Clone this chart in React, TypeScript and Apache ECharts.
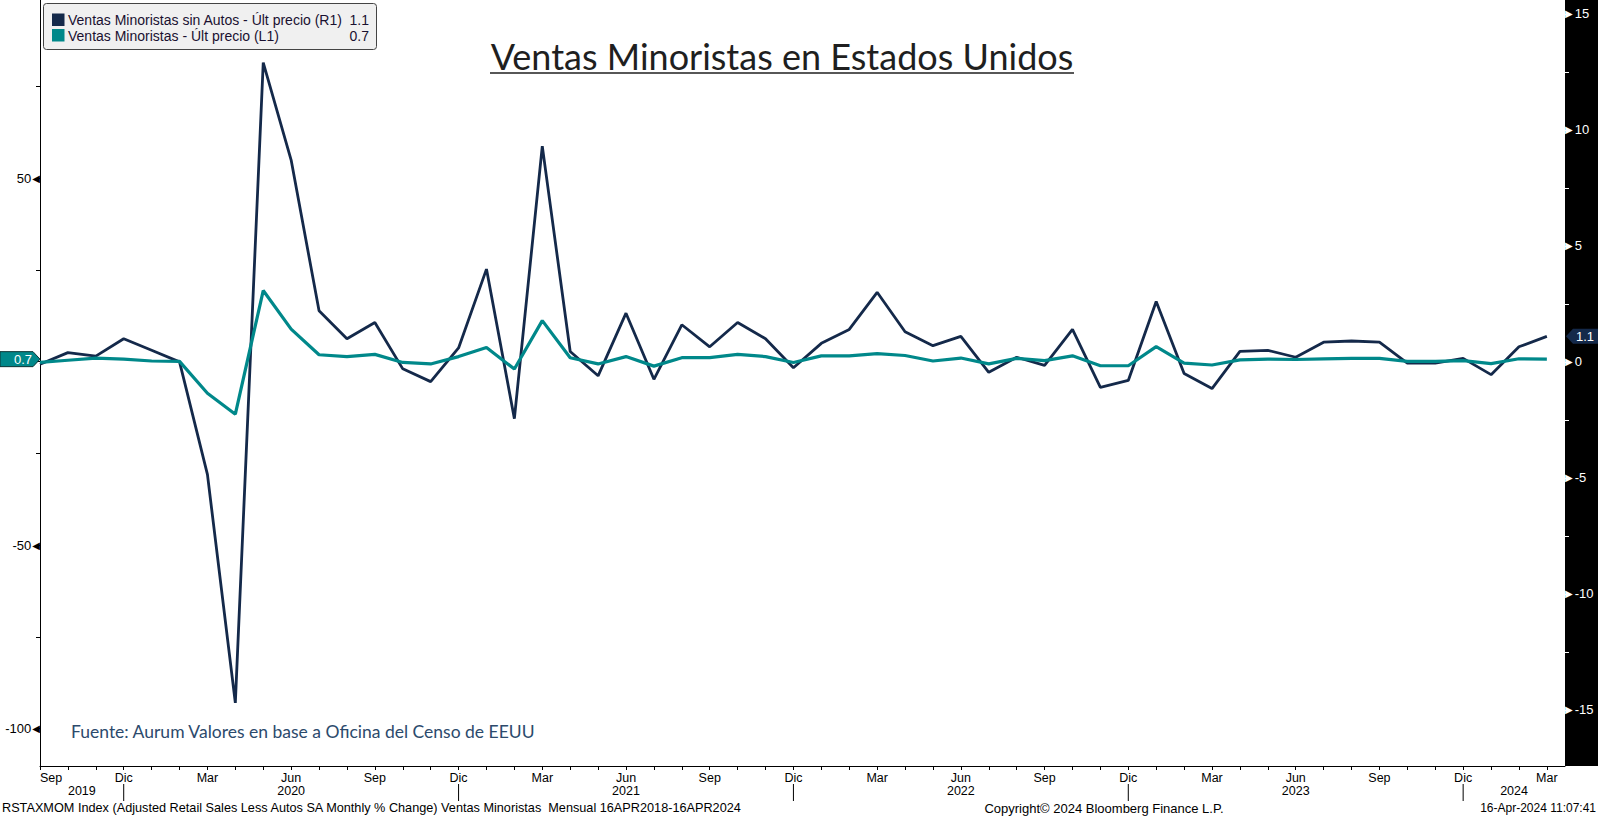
import React, { useEffect, useRef } from "react";
import * as echarts from "echarts";

// ---------------- DATA ----------------
const dates = [
  "2019-09", "2019-10", "2019-11", "2019-12",
  "2020-01", "2020-02", "2020-03", "2020-04", "2020-05", "2020-06", "2020-07", "2020-08", "2020-09", "2020-10", "2020-11", "2020-12",
  "2021-01", "2021-02", "2021-03", "2021-04", "2021-05", "2021-06", "2021-07", "2021-08", "2021-09", "2021-10", "2021-11", "2021-12",
  "2022-01", "2022-02", "2022-03", "2022-04", "2022-05", "2022-06", "2022-07", "2022-08", "2022-09", "2022-10", "2022-11", "2022-12",
  "2023-01", "2023-02", "2023-03", "2023-04", "2023-05", "2023-06", "2023-07", "2023-08", "2023-09", "2023-10", "2023-11", "2023-12",
  "2024-01", "2024-02", "2024-03",
];

const mesesES = ["Ene", "Feb", "Mar", "Abr", "May", "Jun", "Jul", "Ago", "Sep", "Oct", "Nov", "Dic"];

// Ventas Minoristas sin Autos (R1, right axis)
const ventasSinAutos = [
  -0.1, 0.4, 0.25, 1.0,
  0.5, 0.0, -4.85, -14.7, 12.9, 8.7, 2.2, 1.0, 1.7, -0.3, -0.85, 0.6,
  4.0, -2.45, 9.3, 0.45, -0.6, 2.1, -0.75, 1.6, 0.65, 1.7, 1.0, -0.25,
  0.8, 1.4, 3.0, 1.3, 0.7, 1.1, -0.45, 0.2, -0.15, 1.4, -1.1, -0.8,
  2.6, -0.5, -1.15, 0.45, 0.5, 0.2, 0.85, 0.9, 0.85, -0.05, -0.05, 0.15,
  -0.55, 0.65, 1.1,
];

// Ventas Minoristas (L1, left axis)
const ventasTotales = [
  -0.2, 0.4, 1.0, 0.7,
  0.2, 0.1, -8.6, -14.3, 19.4, 8.9, 1.9, 1.4, 2.0, -0.2, -0.6, 1.4,
  3.9, -2.0, 11.2, 1.1, -0.6, 1.4, -1.2, 1.1, 1.1, 2.0, 1.4, -0.2,
  1.6, 1.6, 2.2, 1.7, 0.2, 1.0, -0.6, 0.9, 0.3, 1.6, -1.1, -1.1,
  4.1, -0.4, -0.9, 0.5, 0.7, 0.6, 0.8, 0.9, 0.9, 0.1, 0.1, 0.3,
  -0.5, 0.8, 0.7,
];

const leftTickValues = [-100, -75, -50, -25, 0, 25, 50, 75];
const leftLabelValues = [-100, -50, 50];
const rightTickValues = [-15, -12.5, -10, -7.5, -5, -2.5, 0, 2.5, 5, 7.5, 10, 12.5, 15];
const rightLabelValues = [-15, -10, -5, 0, 5, 10, 15];

const serieSinAutosName = "Ventas Minoristas sin Autos - Últ precio (R1)";
const serieTotalName = "Ventas Minoristas - Últ precio (L1)";
const titleText = "Ventas Minoristas en Estados Unidos";
const sourceText = "Fuente: Aurum Valores en base a Oficina del Censo de EEUU";
const footerLeft = "RSTAXMOM Index (Adjusted Retail Sales Less Autos SA Monthly % Change) Ventas Minoristas  Mensual 16APR2018-16APR2024";
const footerCenter = "Copyright© 2024 Bloomberg Finance L.P.";
const footerRight = "16-Apr-2024 11:07:41";

// ---------------- STYLE ----------------
const NAVY = "#14294a";
const TEAL = "#00888a";
const BBG_FONT = "Liberation Sans";

export default function App() {
  const ref = useRef<HTMLDivElement>(null);

  useEffect(() => {
    document.body.style.margin = "0";
    const el = ref.current!;
    const chart = echarts.init(el, null, { renderer: "svg", width: 1598, height: 818 });

    const monthOf = (i: number) => parseInt(dates[i].slice(5, 7), 10);
    const yearOf = (i: number) => parseInt(dates[i].slice(0, 4), 10);
    const quarterIdx = dates.map((_, i) => i).filter((i) => monthOf(i) % 3 === 0);
    const allIdx = dates.map((_, i) => i);
    const xMax = dates.length - 1 + 0.65;

    const option: any = {
      animation: false,
      backgroundColor: "#ffffff",
      grid: { left: 40, right: 33, top: 0, bottom: 52, containLabel: false },
      xAxis: {
        type: "value",
        min: 0,
        max: xMax,
        axisLine: { show: true, onZero: false, lineStyle: { color: "#000", width: 1 } },
        axisTick: { show: true, length: 4, customValues: allIdx, lineStyle: { color: "#000" } },
        axisLabel: {
          customValues: quarterIdx,
          formatter: (v: number) => {
            const i = Math.round(v);
            if (Math.abs(v - i) > 0.01 || i < 0 || i >= dates.length) return "";
            return mesesES[monthOf(i) - 1];
          },
          color: "#000",
          fontFamily: BBG_FONT,
          fontSize: 12.5,
          margin: 5,
          alignMinLabel: "left",
        },
        splitLine: { show: false },
      },
      yAxis: [
        {
          type: "value",
          position: "left",
          min: -110.2,
          max: 98.6,
          axisLine: { show: true, onZero: false, lineStyle: { color: "#000", width: 1 } },
          axisTick: { show: true, length: 4, customValues: leftTickValues, lineStyle: { color: "#000" } },
          axisLabel: {
            customValues: leftLabelValues,
            margin: 0,
            formatter: (v: number) => `{v|${v}}{t|◀}`,
            rich: {
              v: { color: "#000", fontFamily: BBG_FONT, fontSize: 13, padding: [0, 1, 0, 0] },
              t: { color: "#000", fontFamily: "DejaVu Sans", fontSize: 10 },
            },
          },
          splitLine: { show: false },
        },
        {
          type: "value",
          position: "right",
          min: -17.42,
          max: 15.6,
          z: 5,
          axisLine: { show: false, onZero: false },
          axisTick: { show: true, length: 4, customValues: rightTickValues, lineStyle: { color: "#fff" } },
          axisLabel: {
            customValues: rightLabelValues,
            margin: 0,
            formatter: (v: number) => `{t|▶}{v|${v}}`,
            rich: {
              v: { color: "#fff", fontFamily: BBG_FONT, fontSize: 13, padding: [0, 0, 0, 2] },
              t: { color: "#fff", fontFamily: "DejaVu Sans", fontSize: 10 },
            },
          },
          splitLine: { show: false },
        },
      ],
      series: [
        {
          name: serieSinAutosName,
          type: "line",
          yAxisIndex: 1,
          data: ventasSinAutos.map((v, i) => [i, v]),
          symbol: "none",
          showSymbol: false,
          lineStyle: { color: NAVY, width: 2.8 },
          itemStyle: { color: NAVY },
          z: 2,
        },
        {
          name: serieTotalName,
          type: "line",
          yAxisIndex: 0,
          data: ventasTotales.map((v, i) => [i, v]),
          symbol: "none",
          showSymbol: false,
          lineStyle: { color: TEAL, width: 3.2 },
          itemStyle: { color: TEAL },
          z: 3,
        },
      ],
    };

    chart.setOption(option);

    const toX = (i: number) => chart.convertToPixel({ xAxisIndex: 0 }, i) as number;
    const toYL = (v: number) => chart.convertToPixel({ yAxisIndex: 0 }, v) as number;
    const toYR = (v: number) => chart.convertToPixel({ yAxisIndex: 1 }, v) as number;

    const gridLeft = toX(0);
    const gridRight = toX(xMax);
    const gridBottom = toYL(-110.2);
    const gridTop = toYL(98.6);

    const lastSin = ventasSinAutos[ventasSinAutos.length - 1];
    const lastTot = ventasTotales[ventasTotales.length - 1];
    const yL = toYL(lastTot);
    const yR = toYR(lastSin);

    const elements: any[] = [];

    // right black axis band
    elements.push({
      type: "rect",
      z: -10,
      shape: { x: gridRight, y: gridTop, width: 1598 - gridRight, height: gridBottom - gridTop },
      style: { fill: "#000" },
    });

    // year separators & labels
    const decIdx = allIdx.filter((i) => monthOf(i) === 12);
    const bounds = [gridLeft, ...decIdx.map((i) => toX(i)), gridRight];
    decIdx.forEach((i) => {
      elements.push({
        type: "line",
        z: 50,
        shape: { x1: toX(i), y1: gridBottom + 18, x2: toX(i), y2: gridBottom + 35 },
        style: { stroke: "#000", lineWidth: 1 },
      });
    });
    const years = Array.from(new Set(allIdx.map(yearOf)));
    years.forEach((yr, k) => {
      const cx = (bounds[k] + bounds[k + 1]) / 2;
      elements.push({
        type: "text",
        z: 50,
        x: cx,
        y: gridBottom + 25,
        style: {
          text: String(yr), fill: "#000", fontFamily: BBG_FONT, fontSize: 12.5,
          align: "center", verticalAlign: "middle", textAlign: "center", textVerticalAlign: "middle",
        },
      });
    });

    // last value tags
    const th = 7.5;
    elements.push({
      type: "polygon",
      z: 100,
      shape: { points: [[0, yL - th], [gridLeft - 7, yL - th], [gridLeft, yL], [gridLeft - 7, yL + th], [0, yL + th]] },
      style: { fill: TEAL, stroke: "#0d3535", lineWidth: 1 },
    });
    elements.push({
      type: "text",
      z: 101,
      x: gridLeft - 8,
      y: yL,
      style: {
        text: lastTot.toFixed(1), fill: "#fff", fontFamily: BBG_FONT, fontSize: 13,
        align: "right", verticalAlign: "middle", textAlign: "right", textVerticalAlign: "middle",
      },
    });
    elements.push({
      type: "polygon",
      z: 100,
      shape: { points: [[gridRight + 1, yR], [gridRight + 8, yR - th], [1598, yR - th], [1598, yR + th], [gridRight + 8, yR + th]] },
      style: { fill: NAVY },
    });
    elements.push({
      type: "text",
      z: 101,
      x: gridRight + 11,
      y: yR,
      style: {
        text: lastSin.toFixed(1), fill: "#fff", fontFamily: BBG_FONT, fontSize: 13,
        align: "left", verticalAlign: "middle", textAlign: "left", textVerticalAlign: "middle",
      },
    });

    // legend box
    const lgX = 43.5, lgY = 3.5, lgW = 333, lgH = 46;
    elements.push({
      type: "rect",
      z: 100,
      shape: { x: lgX, y: lgY, width: lgW, height: lgH, r: 3 },
      style: { fill: "#f0f0f0", stroke: "#444", lineWidth: 1 },
    });
    const legendRows = [
      { name: serieSinAutosName, color: NAVY, value: lastSin.toFixed(1), cy: 20 },
      { name: serieTotalName, color: TEAL, value: lastTot.toFixed(1), cy: 35.5 },
    ];
    legendRows.forEach((r) => {
      elements.push({
        type: "rect",
        z: 101,
        shape: { x: 52, y: r.cy - 6.5, width: 12.5, height: 12.5 },
        style: { fill: r.color },
      });
      elements.push({
        type: "text",
        z: 101,
        x: 68,
        y: r.cy,
        style: {
          text: r.name, fill: "#1a1030", fontFamily: BBG_FONT, fontSize: 14,
          align: "left", verticalAlign: "middle", textAlign: "left", textVerticalAlign: "middle",
        },
      });
      elements.push({
        type: "text",
        z: 101,
        x: 369,
        y: r.cy,
        style: {
          text: r.value, fill: "#1a1030", fontFamily: BBG_FONT, fontSize: 14,
          align: "right", verticalAlign: "middle", textAlign: "right", textVerticalAlign: "middle",
        },
      });
    });

    // title with underline
    elements.push({
      type: "text",
      z: 100,
      x: 782,
      y: 56,
      style: {
        text: titleText, fill: "#1f1f1f", fontFamily: "Lato", fontSize: 36,
        align: "center", verticalAlign: "middle", textAlign: "center", textVerticalAlign: "middle",
      },
    });
    elements.push({
      type: "line",
      z: 100,
      shape: { x1: 490, y1: 73, x2: 1074, y2: 73 },
      style: { stroke: "#1f1f1f", lineWidth: 1.6 },
    });

    // source note
    elements.push({
      type: "text",
      z: 100,
      x: 71,
      y: 731,
      style: {
        text: sourceText, fill: "#2c4a6c", fontFamily: "Lato", fontSize: 17.5,
        align: "left", verticalAlign: "middle", textAlign: "left", textVerticalAlign: "middle",
      },
    });

    // footer
    const footY = 808;
    [
      { t: footerLeft, x: 2, a: "left", s: 12.7 },
      { t: footerCenter, x: 1104, a: "center", s: 13 },
      { t: footerRight, x: 1596, a: "right", s: 12 },
    ].forEach((f) => {
      elements.push({
        type: "text",
        z: 100,
        x: f.x,
        y: footY,
        style: {
          text: f.t, fill: "#000", fontFamily: BBG_FONT, fontSize: f.s,
          align: f.a, verticalAlign: "middle", textAlign: f.a, textVerticalAlign: "middle",
        },
      });
    });

    chart.setOption({ graphic: { elements } });

    return () => {
      chart.dispose();
    };
  }, []);

  return (
    <div
      ref={ref}
      style={{ position: "fixed", left: 0, top: 0, width: 1598, height: 818, background: "#fff" }}
    />
  );
}
